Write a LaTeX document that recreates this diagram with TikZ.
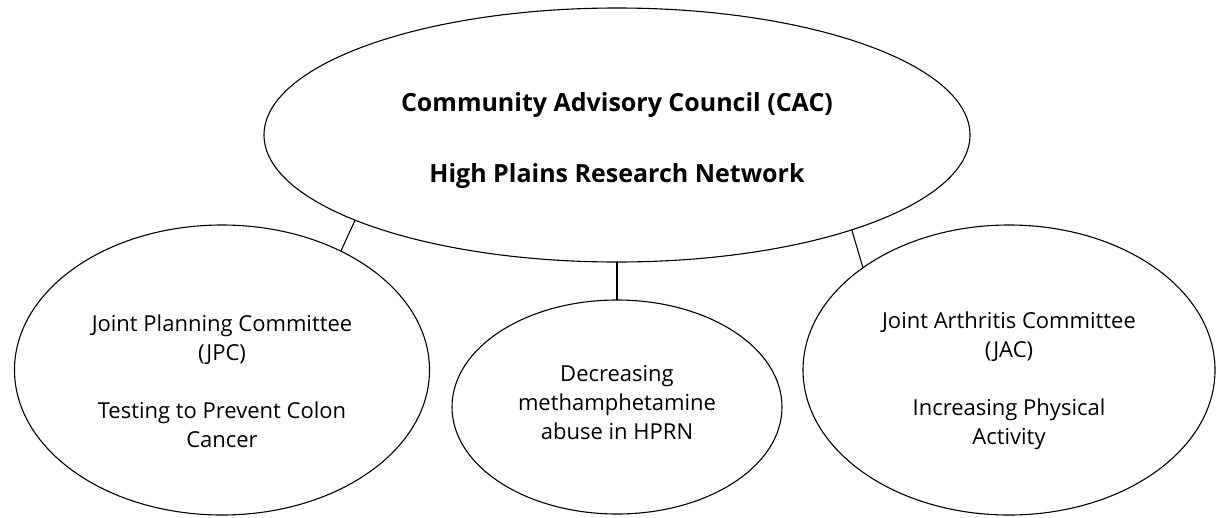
\documentclass[tikz,border=0pt]{standalone}
\usepackage{fontspec}
\setmainfont{Open Sans}
\usetikzlibrary{shapes.geometric}
\tikzset{
  bubble/.style={draw, ellipse, line width=1.1pt, inner sep=0pt, outer sep=0pt},
  words/.style={align=center, inner sep=0pt, font=\fontsize{22}{29}\selectfont},
  headwords/.style={align=center, inner sep=0pt, font=\fontsize{25}{35.5}\selectfont\bfseries}
}
\begin{document}
\begin{tikzpicture}[x=1pt,y=1pt]
\useasboundingbox (0,0) rectangle (1217,-517);
\node [bubble, minimum width=706, minimum height=254] (cac) at (617,-135) {};
\node [bubble, minimum width=415, minimum height=290] (jpc) at (222,-370) {};
\node [bubble, minimum width=330, minimum height=214] (meth) at (617,-407) {};
\node [bubble, minimum width=412, minimum height=290] (jac) at (1009,-370) {};
\draw [line width=1.1pt] (cac.198) -- (jpc.45);
\draw [line width=1.1pt] (cac.south) -- (meth.north);
\draw [line width=1.1pt] (cac.338) -- (jac.145);
\node [headwords] (cactext) at (617,-141) {Community Advisory Council (CAC)\\[35.5pt]High Plains Research Network};
\node [words] (jpctext) at (222,-381) {Joint Planning Committee\\(JPC)\\[29pt]Testing to Prevent Colon\\Cancer};
\node [words] (methtext) at (617,-403) {Decreasing\\methamphetamine\\abuse in HPRN};
\node [words] (jactext) at (1009,-381) {Joint Arthritis Committee\\(JAC)\\[29pt]Increasing Physical\\Activity};
\end{tikzpicture}
\end{document}
